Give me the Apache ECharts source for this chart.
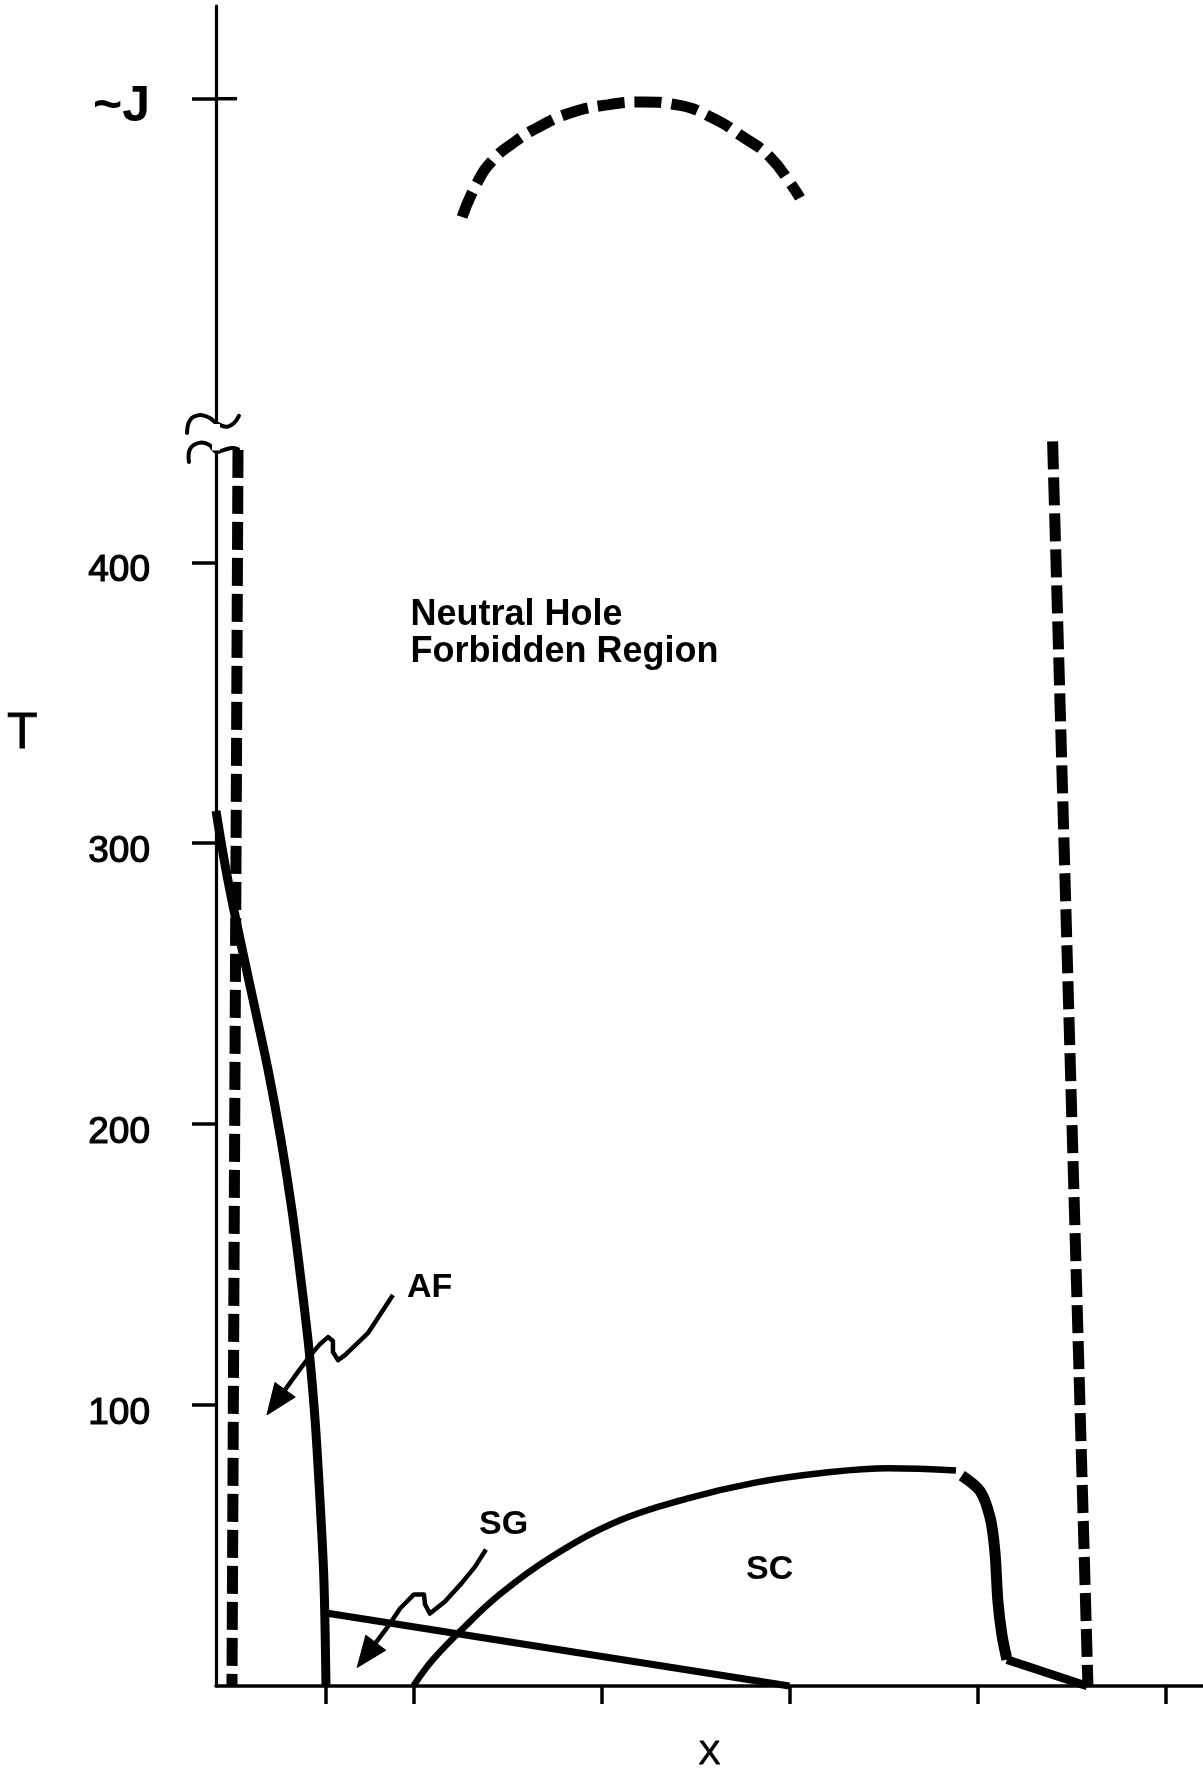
<!DOCTYPE html>
<html>
<head>
<meta charset="utf-8">
<script src="https://cdn.jsdelivr.net/npm/echarts@6/dist/echarts.min.js"></script>
<style>
html,body{margin:0;padding:0;background:#fff;}
#chart{width:1203px;height:1773px;}
</style>
</head>
<body>
<div id="chart"></div>
<script>
// ---- axis ticks ----
const yTickValues = [100, 200, 300, 400, 565];
const yTickNames = ['100', '200', '300', '400', '~J'];
const xTickValues = [0.535, 1, 2, 3, 4, 5];

// ---- phase boundaries (x, T) ----
const afBoundary = [[-0.05,311.5],[0.003,290.5],[0.067,269.2],[0.147,244.3],[0.227,219.3],[0.296,194.3],[0.354,169.4],[0.402,144.5],[0.445,119.6],[0.477,94.7],[0.503,66.2],[0.524,37.7],[0.535,0]];
const sgBoundary = [[0.535,26],[3.0,0]];
const scRise = [[1.0,0],[1.099,9.0],[1.243,19.1],[1.455,32.4],[1.742,46.3],[2.099,59.0],[2.455,66.7],[2.812,72.3],[3.173,75.8],[3.529,77.5],[3.886,76.7]];
const scFall = [[3.917,74.9],[4.014,69.4],[4.067,60.1],[4.093,48.0],[4.109,30.2],[4.130,18.4],[4.157,9.4]];
const scTail = [[4.157,9.4],[4.583,0]];
const leftForbidden = [[0.067,440],[0.035,0]];
const rightForbidden = [[4.40,443],[4.588,0]];
const highTArc = [[1.259,522.9],[1.338,535.0],[1.423,543.2],[1.530,549.2],[1.658,554.6],[1.833,559.9],[2.030,562.8],[2.221,563.8],[2.402,562.8],[2.593,558.1],[2.753,551.4],[2.896,544.3],[3.019,533.6],[3.056,529.7]];

// ---- axis break and tick decoration ----
const breakUpper = [[-0.204,446.0],[-0.188,450.6],[-0.135,452.4],[-0.082,451.3],[-0.050,449.6],[0.003,448.2],[0.046,449.6],[0.072,452.1]];
const breakLower = [[-0.194,435.7],[-0.188,440.3],[-0.140,442.5],[-0.087,441.8],[-0.050,439.3],[-0.007,440.0],[0.035,440.7],[0.067,440.3]];
const breakGap = [[-0.05,439.8],[-0.05,449.2]];
const jTickInner = [[-0.05,565],[0.062,565]];

// ---- arrows ----
const afArrow = [[0.891,139.2],[0.758,125.6],[0.636,117.8],[0.599,116.0],[0.572,118.9],[0.572,122.8],[0.546,124.2],[0.503,121.7],[0.450,117.5],[0.386,111.8],[0.221,96.5]];
const sgArrow = [[1.386,48.6],[1.328,42.5],[1.259,36.8],[1.168,30.1],[1.088,25.8],[1.062,29.0],[1.056,32.6],[1.003,32.6],[0.929,27.6],[0.865,21.2],[0.701,6.6]];

// ---- text annotations ----
const annotationTexts = ['Neutral Hole\nForbidden Region', 'AF', 'SG', 'SC', 'T'];
const annotationPositions = [[0.985,374.6],[0.966,141.9],[1.349,57.4],[2.769,41.4],[-1.162,338.9]];

const FONT = 'Liberation Sans, Arial, Helvetica, sans-serif';
const annotationStyle = [
  {fontSize: 36, fontWeight: 'bold', lineHeight: 37.5},
  {fontSize: 34, fontWeight: 'bold'},
  {fontSize: 34, fontWeight: 'bold'},
  {fontSize: 34, fontWeight: 'bold'},
  {fontSize: 50, fontWeight: 'normal', textBorderColor: '#000', textBorderWidth: 0.8}
];

function lineSeries(name, data, width, opts) {
  return Object.assign({
    type: 'line', name: name, data: data, symbol: 'none', clip: false,
    silent: true, animation: false,
    lineStyle: {color: '#000', width: width, cap: 'butt', join: 'round'}
  }, opts || {});
}

// free polyline through data points (not clamped to the axis range)
function polylineRenderer(points, width, smooth) {
  return function (params, api) {
    if (params.dataIndex !== 0) return null;
    const px = points.map(p => api.coord(p));
    return {type: 'polyline', shape: {points: px, smooth: smooth}, style: {stroke: '#000', lineWidth: width, fill: null, lineCap: 'round', lineJoin: 'round'}};
  };
}

function arrowRenderer(points) {
  return function (params, api) {
    if (params.dataIndex !== 0) return null;
    const px = points.map(p => api.coord(p));
    const tip = px[px.length - 1];
    const prev = px[px.length - 2];
    const dx = tip[0] - prev[0], dy = tip[1] - prev[1];
    const len = Math.hypot(dx, dy);
    const ux = dx / len, uy = dy / len;
    const headLen = 31, headHalf = 12.5;
    const base = [tip[0] - ux * headLen, tip[1] - uy * headLen];
    const left = [base[0] - uy * headHalf, base[1] + ux * headHalf];
    const right = [base[0] + uy * headHalf, base[1] - ux * headHalf];
    const shaft = px.slice(0, -1).concat([[tip[0] - ux * (headLen - 4), tip[1] - uy * (headLen - 4)]]);
    return {
      type: 'group',
      children: [
        {type: 'polyline', shape: {points: shaft}, style: {stroke: '#000', lineWidth: 4.5, fill: null, lineJoin: 'round'}},
        {type: 'polygon', shape: {points: [tip, left, right]}, style: {fill: '#000', stroke: '#000', lineWidth: 1}}
      ]
    };
  };
}

function customSeries(name, data, renderItem) {
  return {type: 'custom', name: name, data: data, renderItem: renderItem, silent: true, clip: false, encode: {x: 0, y: 1}, z: 3};
}

const annotationData = annotationTexts.map((t, i) => ({
  name: t,
  value: annotationPositions[i],
  label: Object.assign({
    show: true, formatter: '{b}', position: 'right', distance: 0, align: 'left', verticalAlign: 'middle',
    color: '#000', opacity: 1, fontFamily: FONT
  }, annotationStyle[i])
}));

const dashStyle = [28, 8];

const option = {
  backgroundColor: '#fff',
  animation: false,
  grid: {left: 216, right: 0, top: 6, bottom: 87, containLabel: false, outerBoundsMode: 'none'},
  xAxis: {
    type: 'value', min: -0.05, max: 5.2,
    name: 'X', nameLocation: 'middle', nameGap: 69,
    nameTextStyle: {fontSize: 33, color: '#000', fontFamily: FONT, verticalAlign: 'middle', textBorderColor: '#000', textBorderWidth: 0.8},
    axisLine: {show: true, onZero: false, lineStyle: {color: '#000', width: 3.5}},
    axisTick: {show: true, customValues: xTickValues, length: 18, lineStyle: {color: '#000', width: 3.5}},
    axisLabel: {show: false},
    splitLine: {show: false}
  },
  yAxis: {
    type: 'value', min: 0, max: 598,
    axisLine: {show: true, onZero: false, lineStyle: {color: '#000', width: 3.2}},
    axisTick: {show: true, customValues: yTickValues, length: 24, lineStyle: {color: '#000', width: 3.5}},
    axisLabel: {
      show: true, customValues: yTickValues, margin: 66, padding: [18, 0, 0, 0],
      formatter: function (v) {
        const i = yTickValues.indexOf(v);
        const txt = i >= 0 ? yTickNames[i] : '';
        return v === 565 ? '{j|' + txt + '}' : '{n|' + txt + '}';
      },
      rich: {
        n: {fontSize: 37, color: '#000', fontFamily: FONT, textBorderColor: '#000', textBorderWidth: 1.2},
        j: {fontSize: 50, fontWeight: 'bold', color: '#000', fontFamily: FONT}
      }
    },
    splitLine: {show: false}
  },
  series: [
    lineSeries('breakGap', breakGap, 8, {lineStyle: {color: '#fff', width: 8, cap: 'butt'}}),
    customSeries('breakUpper', breakUpper, polylineRenderer(breakUpper, 4, 0.4)),
    customSeries('breakLower', breakLower, polylineRenderer(breakLower, 4, 0.4)),
    lineSeries('jTick', jTickInner, 3.5),
    lineSeries('leftForbidden', leftForbidden, 11, {lineStyle: {color: '#000', width: 11, type: dashStyle, cap: 'butt'}}),
    lineSeries('rightForbidden', rightForbidden, 11, {lineStyle: {color: '#000', width: 11, type: dashStyle, cap: 'butt'}}),
    lineSeries('highTArc', highTArc, 11, {smooth: 0.5, lineStyle: {color: '#000', width: 11, type: [27, 10], cap: 'butt'}}),
    lineSeries('AF', afBoundary, 9, {smooth: 0.3}),
    lineSeries('SG', sgBoundary, 7),
    lineSeries('SCrise', scRise, 6.5, {smooth: 0.4}),
    lineSeries('SCfall', scFall, 11, {smooth: 0.3}),
    lineSeries('SCtail', scTail, 8.5),
    customSeries('afArrow', afArrow, arrowRenderer(afArrow)),
    customSeries('sgArrow', sgArrow, arrowRenderer(sgArrow)),
    {
      type: 'scatter', name: 'labels', data: annotationData, symbolSize: 0, clip: false, silent: true,
      itemStyle: {color: '#000'}
    }
  ]
};

const chart = echarts.init(document.getElementById('chart'), null, {renderer: 'canvas'});
chart.setOption(option);
</script>
</body>
</html>
